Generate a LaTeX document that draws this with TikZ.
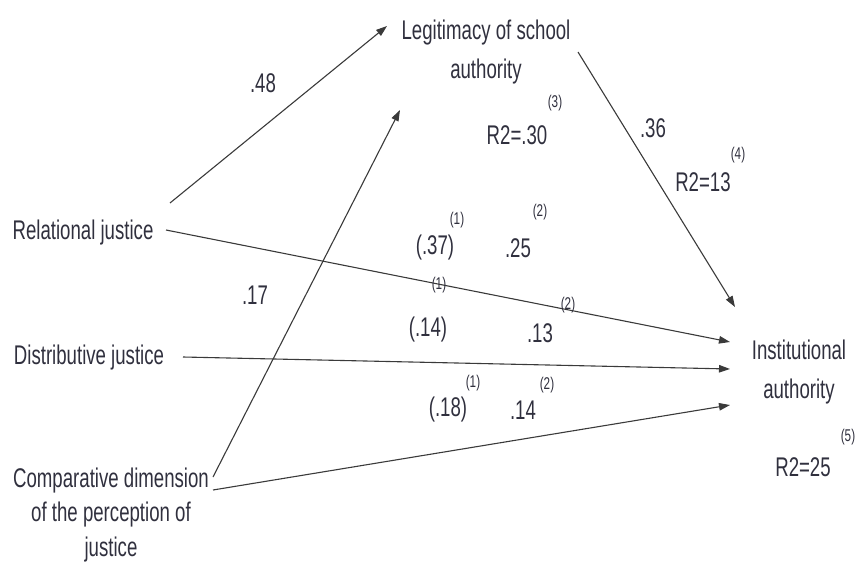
\documentclass[tikz,border=0pt]{standalone}
\usepackage{fontspec}
\setmainfont[FakeStretch=0.69]{Liberation Sans}
\usepackage{xcolor}
\usepackage{tikz}
\usetikzlibrary{arrows.meta}
\definecolor{figink}{RGB}{48,48,62}
\definecolor{figline}{RGB}{58,58,58}
\tikzstyle{arrow} = [-{Triangle[length=11pt,width=7.5pt]}, line width=1.1pt, draw=figline]
\tikzset{
    varnode/.style={font=\fontsize{27}{39}\selectfont, text=figink, align=center, inner sep=2pt},
    coef/.style={font=\fontsize{27}{30}\selectfont, text=figink, inner sep=0pt},
    supnote/.style={font=\fontsize{17}{19}\selectfont, text=figink, inner sep=0pt},
}
\begin{document}
\begin{tikzpicture}[x=1pt, y=-1pt]
    \useasboundingbox (0,0) rectangle (857,578);

    % variables
    \node[varnode] (legit) at (486,52) {Legitimacy of school\\authority};
    \node[varnode] (rel) at (83,233) {Relational justice};
    \node[varnode] (dis) at (89,358) {Distributive justice};
    \node[varnode, font=\fontsize{27}{34.5}\selectfont] (comp) at (111,515)
        {Comparative dimension\\of the perception of\\justice};
    \node[varnode] (inst) at (799,372) {Institutional\\authority};

    % paths
    \draw[arrow] ([shift={(87,-30)}]rel.center) -- ([shift={(-99,-26)}]legit.center);
    \draw[arrow] ([shift={(102,-38)}]comp.center) -- ([shift={(-86,58)}]legit.center);
    \draw[arrow] ([shift={(92,0)}]legit.center) -- ([shift={(-64,-65)}]inst.center);
    \draw[arrow] ([shift={(83,-3)}]rel.center) -- ([shift={(-69,-30)}]inst.center);
    \draw[arrow] ([shift={(94,-1)}]dis.center) -- ([shift={(-69,-3)}]inst.center);
    \draw[arrow] ([shift={(102,-25)}]comp.center) -- ([shift={(-69,33)}]inst.center);

    % coefficients
    \node[coef] (c48) at (263,83) {.48};
    \node[coef] (c17) at (255,295) {.17};
    \node[coef] (c36) at (653,128) {.36};
    \node[coef] (c37) at (435,248) {(.37)};
    \node[supnote] (s37) at (457,220) {(1)};
    \node[coef] (c25) at (518,248) {.25};
    \node[supnote] (s25) at (540,212) {(2)};
    \node[supnote] (s14) at (439,285) {(1)};
    \node[coef] (c14) at (428,330) {(.14)};
    \node[coef] (c13) at (540,333) {.13};
    \node[supnote] (s13) at (568,305) {(2)};
    \node[coef] (c18) at (448,410) {(.18)};
    \node[supnote] (s18) at (473,383) {(1)};
    \node[coef] (c14b) at (523,410) {.14};
    \node[supnote] (s14b) at (547,385) {(2)};

    % explained variance
    \node[coef] (r30) at (517,135) {R2=.30};
    \node[supnote] (s30) at (555,103) {(3)};
    \node[coef] (r13) at (703,182) {R2=13};
    \node[supnote] (s13r) at (738,155) {(4)};
    \node[coef] (r25) at (803,467) {R2=25};
    \node[supnote] (s25r) at (848,437) {(5)};
\end{tikzpicture}
\end{document}
